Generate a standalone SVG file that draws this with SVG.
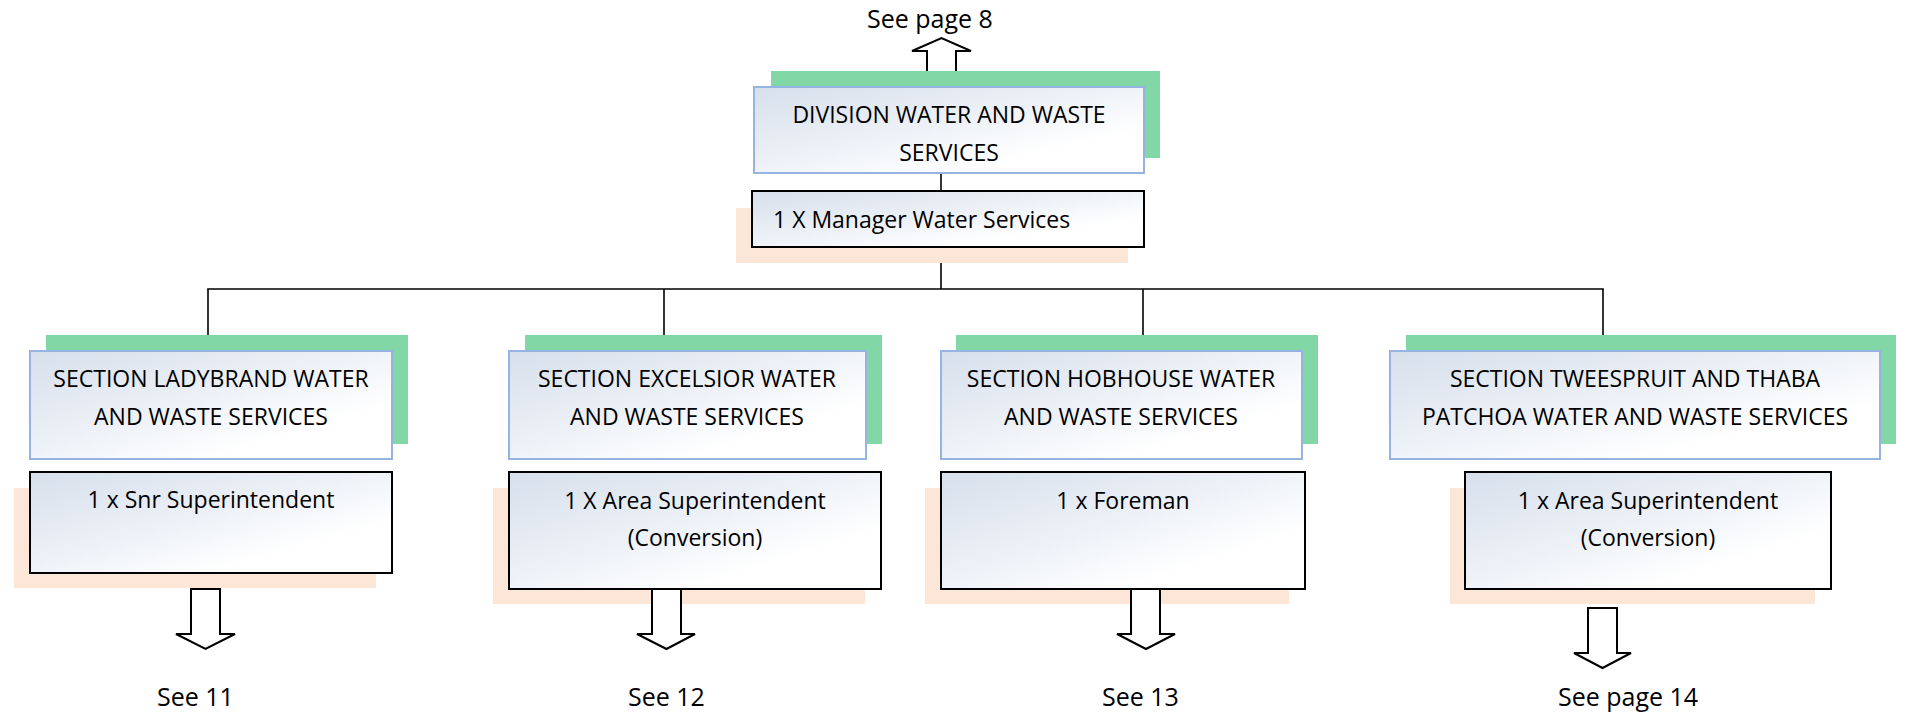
<svg xmlns="http://www.w3.org/2000/svg" width="1912" height="715" viewBox="0 0 1912 715">
<style>
.bg{fill:#ffffff}
.green{fill:#82D7A7}
.peach{fill:#FBE6D7}
.sec{fill:url(#g);stroke:#95B4E2;stroke-width:2}
.staff{fill:url(#g);stroke:#000;stroke-width:2}
.t{font-family:"Open Sans","Noto Sans","Liberation Sans",sans-serif;font-size:23px;fill:#000}
.lbl{font-size:25px}
.c{text-anchor:middle}
.conn{stroke:#000;stroke-width:1.6;fill:none}
.arr{fill:#fff;stroke:#000;stroke-width:2;stroke-linejoin:miter}
</style>
<defs>
<linearGradient id="g" x1="0" y1="0" x2="1" y2="1">
<stop offset="0" stop-color="#D6DFEB"/>
<stop offset="0.45" stop-color="#EDF1F7"/>
<stop offset="0.75" stop-color="#FFFFFF"/>
</linearGradient>
</defs>
<rect class="bg" x="0" y="0" width="1912" height="715"/>

<g id="connectors">
<line class="conn" x1="941" y1="173" x2="941" y2="191"/>
<line class="conn" x1="941" y1="247" x2="941" y2="289"/>
<line class="conn" x1="207.2" y1="289" x2="1603.8" y2="289"/>
<line class="conn" x1="208" y1="289" x2="208" y2="351"/>
<line class="conn" x1="664" y1="289" x2="664" y2="351"/>
<line class="conn" x1="1143" y1="289" x2="1143" y2="351"/>
<line class="conn" x1="1603" y1="289" x2="1603" y2="351"/>
</g>

<g id="ref-top">
<text class="t lbl" x="867" y="28">See page 8</text>
<polygon class="arr" points="927,87 927,51 912,51 941.5,38 971,51 956,51 956,87"/>
</g>

<g id="division">
<rect class="green" x="771" y="71" width="389" height="87"/>
<rect class="sec" x="754" y="87" width="390" height="86"/>
<text class="t c" x="949" y="123">DIVISION WATER AND WASTE</text>
<text class="t c" x="949" y="161">SERVICES</text>
</g>

<g id="manager">
<rect class="peach" x="736" y="208" width="392" height="55"/>
<rect class="staff" x="752" y="191" width="392" height="56"/>
<text class="t" x="773" y="228">1 X Manager Water Services</text>
</g>

<g id="section-ladybrand">
<rect class="green" x="46" y="335" width="362" height="109"/>
<rect class="sec" x="30" y="351" width="362" height="108"/>
<text class="t c" x="211" y="387">SECTION LADYBRAND WATER</text>
<text class="t c" x="211" y="425">AND WASTE SERVICES</text>
</g>
<g id="staff-ladybrand">
<rect class="peach" x="14" y="488" width="362" height="100"/>
<rect class="staff" x="30" y="472" width="362" height="101"/>
<text class="t c" x="211" y="508">1 x Snr Superintendent</text>
</g>

<g id="section-excelsior">
<rect class="green" x="525" y="335" width="357" height="109"/>
<rect class="sec" x="509" y="351" width="357" height="108"/>
<text class="t c" x="687" y="387">SECTION EXCELSIOR WATER</text>
<text class="t c" x="687" y="425">AND WASTE SERVICES</text>
</g>
<g id="staff-excelsior">
<rect class="peach" x="493" y="488" width="372" height="116"/>
<rect class="staff" x="509" y="472" width="372" height="117"/>
<text class="t c" x="695" y="509">1 X Area Superintendent</text>
<text class="t c" x="695" y="546">(Conversion)</text>
</g>

<g id="section-hobhouse">
<rect class="green" x="956" y="335" width="362" height="109"/>
<rect class="sec" x="941" y="351" width="361" height="108"/>
<text class="t c" x="1121" y="387">SECTION HOBHOUSE WATER</text>
<text class="t c" x="1121" y="425">AND WASTE SERVICES</text>
</g>
<g id="staff-hobhouse">
<rect class="peach" x="925" y="488" width="364" height="116"/>
<rect class="staff" x="941" y="472" width="364" height="117"/>
<text class="t c" x="1123" y="509">1 x Foreman</text>
</g>

<g id="section-tweespruit">
<rect class="green" x="1406" y="335" width="490" height="109"/>
<rect class="sec" x="1390" y="351" width="490" height="108"/>
<text class="t c" x="1635" y="387">SECTION TWEESPRUIT AND THABA</text>
<text class="t c" x="1635" y="425">PATCHOA WATER AND WASTE SERVICES</text>
</g>
<g id="staff-tweespruit">
<rect class="peach" x="1450" y="488" width="365" height="116"/>
<rect class="staff" x="1465" y="472" width="366" height="117"/>
<text class="t c" x="1648" y="509">1 x Area Superintendent</text>
<text class="t c" x="1648" y="546">(Conversion)</text>
</g>

<g id="ref-bottom">
<polygon class="arr" points="191,589 220,589 220,634 235,634 205.5,649 176,634 191,634"/>
<text class="t lbl" x="157" y="706">See 11</text>
<polygon class="arr" points="652,589 681,589 681,634 695,634 666.5,649 637,634 652,634"/>
<text class="t lbl" x="628" y="706">See 12</text>
<polygon class="arr" points="1131,589 1160,589 1160,634 1175,634 1146,649 1117,634 1131,634"/>
<text class="t lbl" x="1102" y="706">See 13</text>
<polygon class="arr" points="1588,608 1617,608 1617,653 1631,653 1602.5,668 1574,653 1588,653"/>
<text class="t lbl" x="1558" y="706">See page 14</text>
</g>
</svg>
